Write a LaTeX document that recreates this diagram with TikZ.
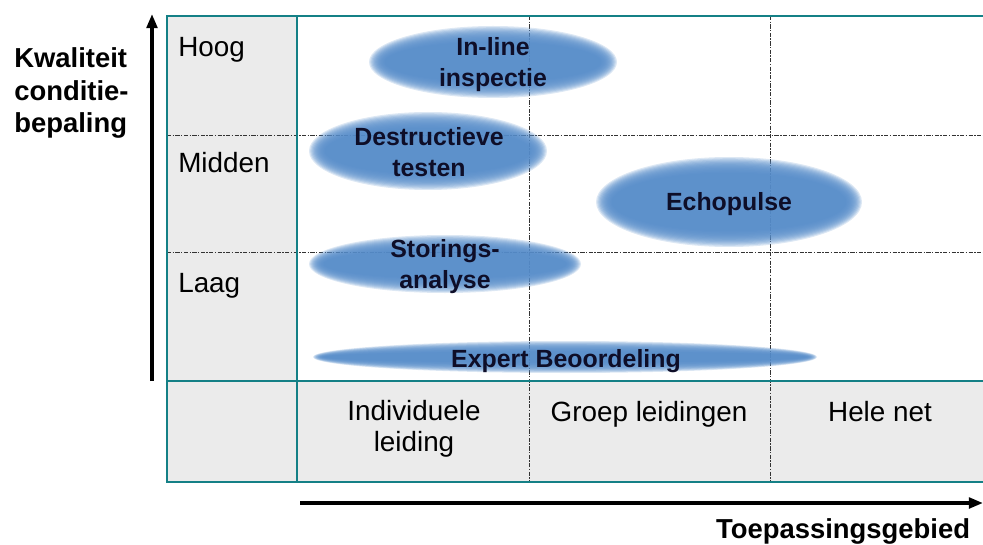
\documentclass[tikz,border=0pt]{standalone}
\usepackage{fontspec}
\setmainfont{Liberation Sans}
\usetikzlibrary{arrows.meta}

\definecolor{gridteal}{RGB}{20,128,134}
\definecolor{cellgray}{RGB}{235,235,235}
\definecolor{blobblue}{RGB}{86,140,201}
\definecolor{navytext}{RGB}{14,14,40}

\tikzset{
  gridline/.style={draw=gridteal, line width=2pt},
  divider/.style={black!80, line width=0.5pt, dash pattern=on 3pt off 1pt on 1pt off 1pt},
  axisarrow/.style={line width=2.4pt, -{Triangle[length=10pt,width=7.5pt]}},
  celltext/.style={inner sep=0pt, font=\fontsize{19.8}{22}\selectfont, align=center},
  axistitle/.style={inner sep=0pt, font=\bfseries\fontsize{19.5}{23}\selectfont, align=left},
  blobfill/.style={fill=blobblue, opacity=0.2},
  blobtext/.style={inner sep=0pt, text=navytext, font=\bfseries\fontsize{17.7}{22}\selectfont, align=center},
}

\begin{document}
\begin{tikzpicture}[x=0.025cm, y=-0.025cm]
  \useasboundingbox (0,0) rectangle (983,544);
  \clip (0,0) rectangle (983,544);

  % grey header cells
  \fill[cellgray] (167,16) rectangle (297,482);
  \fill[cellgray] (297,381) rectangle (990,482);

  % cell dividers
  \draw[divider] (167,135) -- (990,135);
  \draw[divider] (167,252) -- (990,252);
  \draw[divider] (529,16) -- (529,482);
  \draw[divider] (770,16) -- (770,482);

  % frame
  \draw[gridline] (990,16) -- (167,16) -- (167,482) -- (990,482);
  \draw[gridline] (297,16) -- (297,482);
  \draw[gridline] (167,381) -- (990,381);

  % soft ellipses, built up from thin layers
  \foreach \cx/\cy/\rx/\ry/\d in {493/62/124/36/1.2, 428/151/119/39/1.2,
      729/202/133/45/1.2, 445/264/136/29/1.1, 565/357/252/16/0.8}
    \foreach \k in {0,...,13}
      \fill[blobfill] (\cx,\cy) ellipse ({\rx-\d*\k} and {\ry-\d*\k});

  \node[blobtext] (inline) at (493,65) {In-line\\inspectie};
  \node[blobtext] (destr) at (429,152) {Destructieve\\testen};
  \node[blobtext, anchor=base] (echo) at (729,210) {Echopulse};
  \node[blobtext] (storing) at (445,267) {Storings-\\analyse};
  \node[blobtext, anchor=base] (expert) at (566,367) {Expert Beoordeling};

  % row labels
  \node[celltext, anchor=base west] (hoog) at (178,57) {Hoog};
  \node[celltext, anchor=base west] (midden) at (178,173) {Midden};
  \node[celltext, anchor=base west] (laag) at (178,292) {Laag};

  % column labels
  \node[celltext] (indiv) at (414,429) {Individuele\\leiding};
  \node[celltext, anchor=base] (groep) at (649,421) {Groep leidingen};
  \node[celltext, anchor=base] (hele) at (880,421) {Hele net};

  % axes
  \coordinate (yfoot) at (152,381);
  \coordinate (ytip) at (152,14);
  \coordinate (xfoot) at (300,503);
  \coordinate (xtip) at (983,503);
  \draw[axisarrow] (yfoot) -- (ytip);
  \draw[axisarrow] (xfoot) -- (xtip);

  \node[axistitle, anchor=west] (kwal) at (14,93) {Kwaliteit\\conditie-\\bepaling};
  \node[axistitle, anchor=base] (toep) at (843,538) {Toepassingsgebied};
\end{tikzpicture}
\end{document}
